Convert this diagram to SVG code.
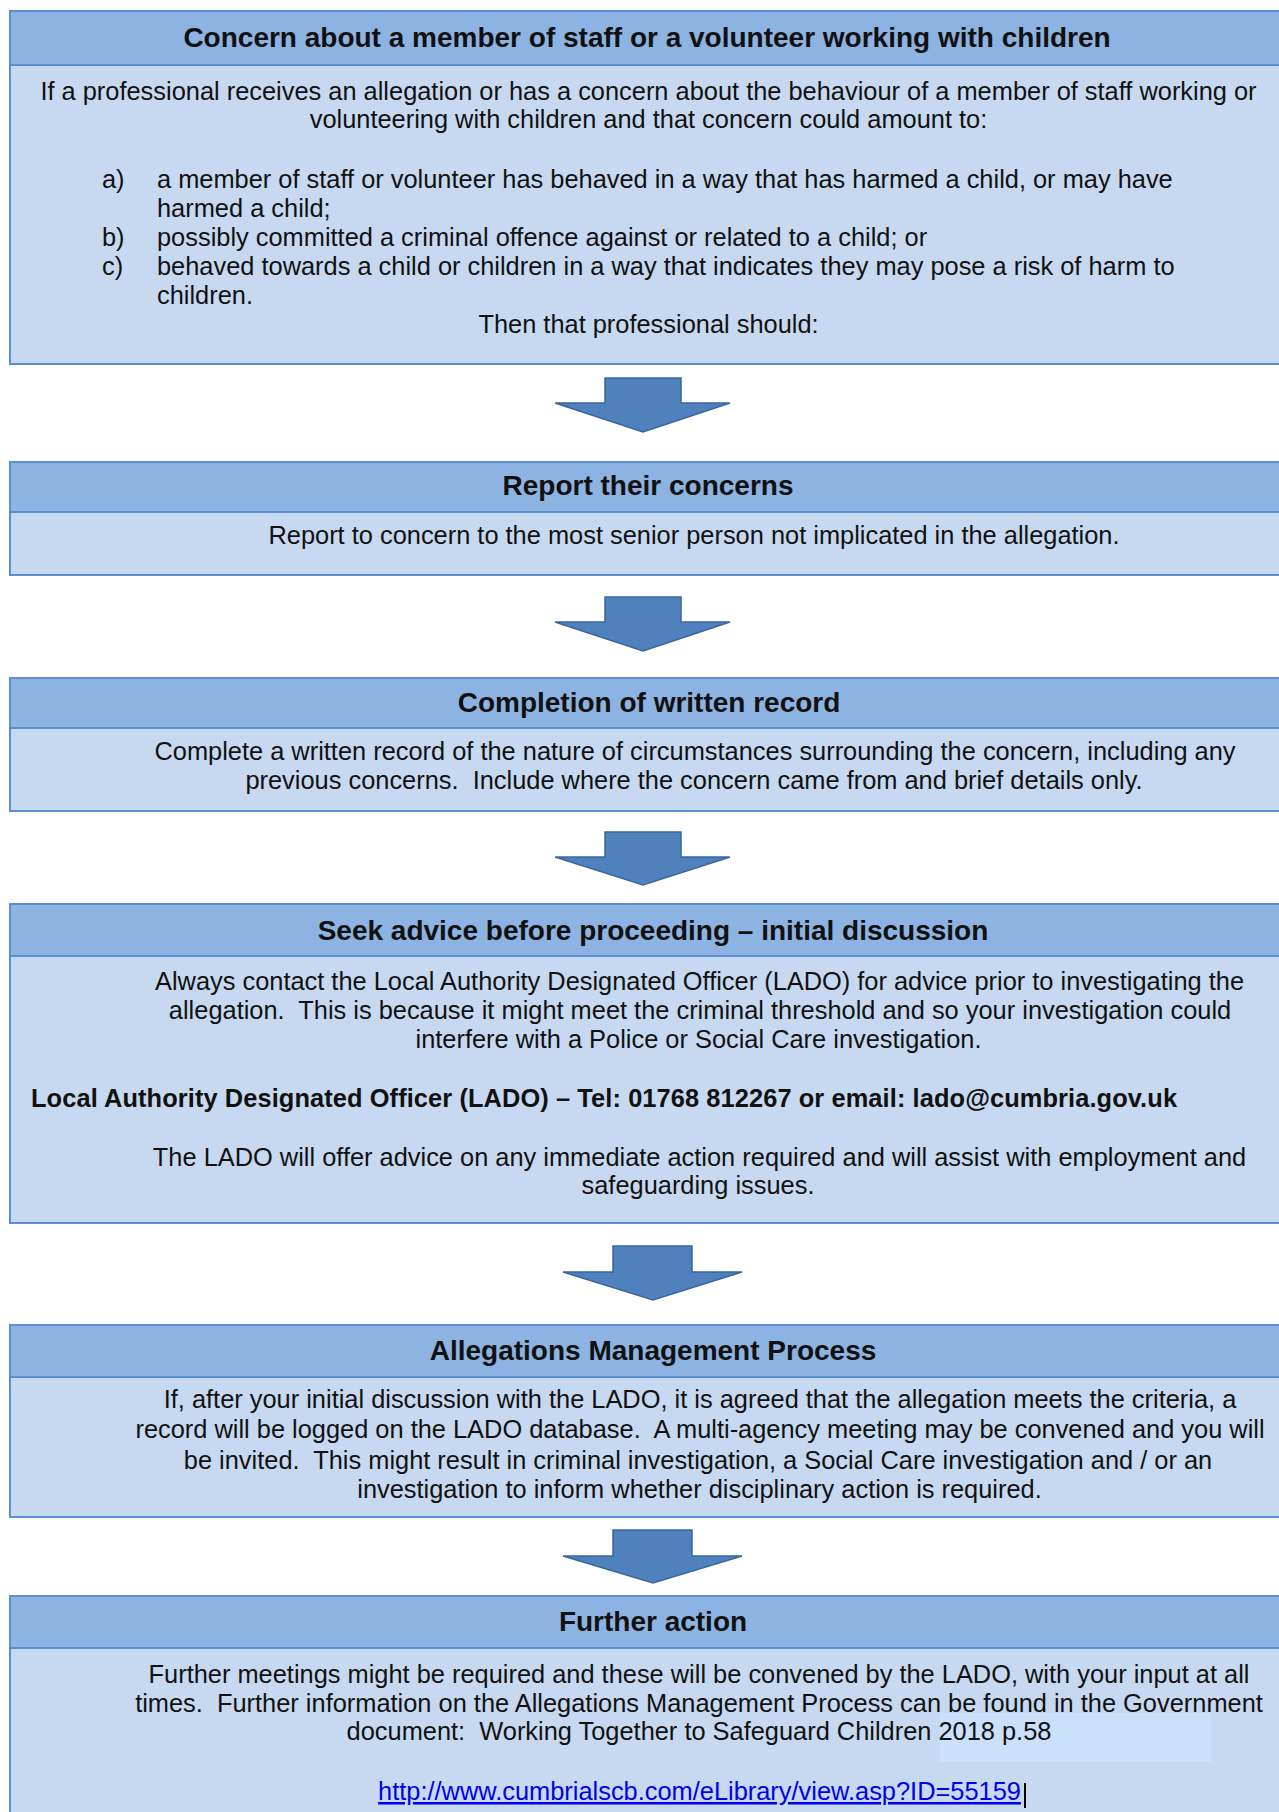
<svg xmlns="http://www.w3.org/2000/svg" width="1279" height="1812" viewBox="0 0 1279 1812">
<style>
.body{fill:#c6d9f1;stroke:#5b8fd4;stroke-width:2}
.head{fill:#8db3e2;stroke:#5b8fd4;stroke-width:2}
.ht{font-family:"Liberation Sans",Arial,sans-serif;font-weight:bold;font-size:28px;fill:#111;text-anchor:middle}
.t{font-family:"Liberation Sans",Arial,sans-serif;font-size:25.4px;fill:#111}
.c{text-anchor:middle}
.b{font-weight:bold}
.arrow{fill:#4f81bd;stroke:#3a679c;stroke-width:1.5;stroke-linejoin:miter}
</style>
<rect width="1279" height="1812" fill="#ffffff"/>
<g id="connectors">
<path class="arrow" d="M605,378 H681 V403 H730 L643,432 L555,403 H605 Z"/>
<path class="arrow" d="M605,597 H681 V622 H730 L643,651 L555,622 H605 Z"/>
<path class="arrow" d="M605,832 H681 V857 H730 L643,885 L555,857 H605 Z"/>
<path class="arrow" d="M613,1246 H692 V1272 H742 L653,1300 L563,1272 H613 Z"/>
<path class="arrow" d="M613,1530 H692 V1556 H742 L653,1583 L563,1556 H613 Z"/>
</g>
<g id="node-concern">
<rect class="body" x="10" y="11" width="1290" height="353"/>
<rect class="head" x="10" y="11" width="1290" height="54"/>
<text class="ht" x="647" y="47">Concern about a member of staff or a volunteer working with children</text>
<text class="t c" x="648.5" y="100">If a professional receives an allegation or has a concern about the behaviour of a member of staff working or</text>
<text class="t c" x="648.5" y="128">volunteering with children and that concern could amount to:</text>
<text class="t" x="102" y="188">a)</text>
<text class="t" x="157" y="188">a member of staff or volunteer has behaved in a way that has harmed a child, or may have</text>
<text class="t" x="157" y="217">harmed a child;</text>
<text class="t" x="102" y="246">b)</text>
<text class="t" x="157" y="246">possibly committed a criminal offence against or related to a child; or</text>
<text class="t" x="102" y="275">c)</text>
<text class="t" x="157" y="275">behaved towards a child or children in a way that indicates they may pose a risk of harm to</text>
<text class="t" x="157" y="304">children.</text>
<text class="t c" x="648.5" y="333">Then that professional should:</text>
</g>
<g id="node-report">
<rect class="body" x="10" y="462" width="1290" height="113"/>
<rect class="head" x="10" y="462" width="1290" height="50"/>
<text class="ht" x="648" y="495">Report their concerns</text>
<text class="t c" x="694" y="544">Report to concern to the most senior person not implicated in the allegation.</text>
</g>
<g id="node-record">
<rect class="body" x="10" y="678" width="1290" height="133"/>
<rect class="head" x="10" y="678" width="1290" height="50"/>
<text class="ht" x="649" y="712">Completion of written record</text>
<text class="t c" x="695" y="760">Complete a written record of the nature of circumstances surrounding the concern, including any</text>
<text class="t c" x="694" y="789">previous concerns.&#160; Include where the concern came from and brief details only.</text>
</g>
<g id="node-advice">
<rect class="body" x="10" y="904" width="1290" height="319"/>
<rect class="head" x="10" y="904" width="1290" height="52"/>
<text class="ht" x="653" y="940">Seek advice before proceeding – initial discussion</text>
<text class="t c" x="699.5" y="990">Always contact the Local Authority Designated Officer (LADO) for advice prior to investigating the</text>
<text class="t c" x="700" y="1019">allegation.&#160; This is because it might meet the criminal threshold and so your investigation could</text>
<text class="t c" x="698.5" y="1048">interfere with a Police or Social Care investigation.</text>
<text class="t b" x="31" y="1107" textLength="1146" lengthAdjust="spacing">Local Authority Designated Officer (LADO) – Tel: 01768 812267 or email: lado@cumbria.gov.uk</text>
<text class="t c" x="699.5" y="1166">The LADO will offer advice on any immediate action required and will assist with employment and</text>
<text class="t c" x="698" y="1194">safeguarding issues.</text>
</g>
<g id="node-allegations">
<rect class="body" x="10" y="1325" width="1290" height="192"/>
<rect class="head" x="10" y="1325" width="1290" height="52"/>
<text class="ht" x="653" y="1360">Allegations Management Process</text>
<text class="t c" x="700" y="1408">If, after your initial discussion with the LADO, it is agreed that the allegation meets the criteria, a</text>
<text class="t c" x="700" y="1438">record will be logged on the LADO database.&#160; A multi-agency meeting may be convened and you will</text>
<text class="t c" x="698" y="1469">be invited.&#160; This might result in criminal investigation, a Social Care investigation and / or an</text>
<text class="t c" x="699.5" y="1498">investigation to inform whether disciplinary action is required.</text>
</g>
<g id="node-further">
<rect class="body" x="10" y="1596" width="1290" height="240"/>
<rect class="head" x="10" y="1596" width="1290" height="52"/>
<text class="ht" x="653" y="1631">Further action</text>
<rect x="940" y="1713" width="271" height="49" fill="#cbe0fa"/>
<text class="t c" x="699" y="1683">Further meetings might be required and these will be convened by the LADO, with your input at all</text>
<text class="t c" x="699" y="1712">times.&#160; Further information on the Allegations Management Process can be found in the Government</text>
<text class="t c" x="699" y="1740">document:&#160; Working Together to Safeguard Children 2018 p.58</text>
<text class="t c" x="699.5" y="1800" style="fill:#0000ee" text-decoration="underline">http://www.cumbrialscb.com/eLibrary/view.asp?ID=55159</text>
<line x1="1025" y1="1783" x2="1025" y2="1808" stroke="#000" stroke-width="2"/>
</g>
</svg>
